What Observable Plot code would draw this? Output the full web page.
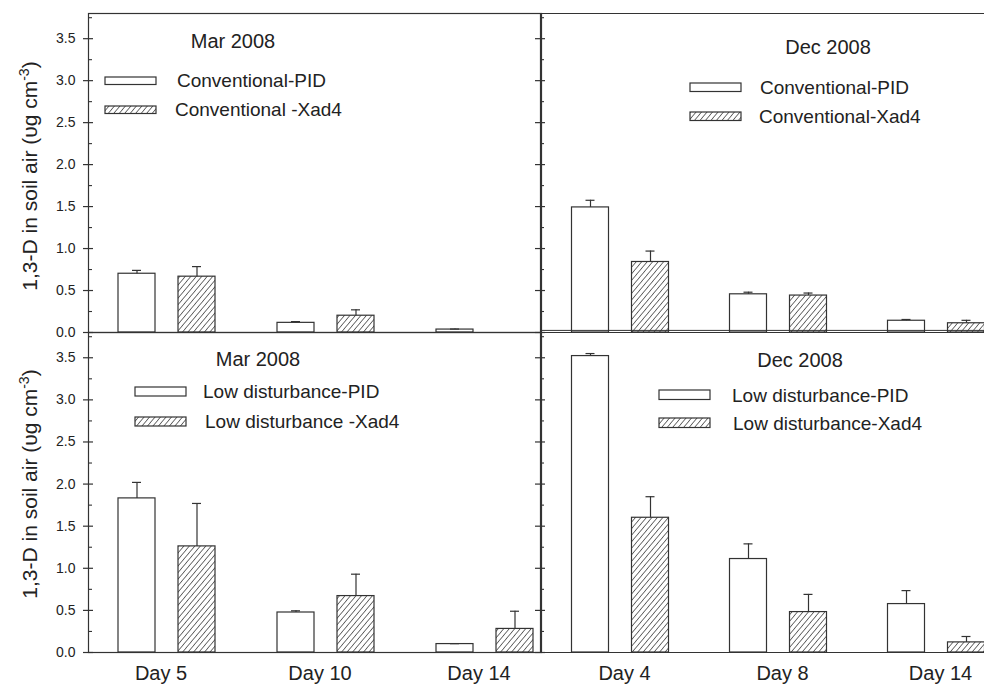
<!DOCTYPE html>
<html><head><meta charset="utf-8">
<script src="https://cdn.jsdelivr.net/npm/d3@7"></script>
<script src="https://cdn.jsdelivr.net/npm/@observablehq/plot@0.6"></script>
<style>
html,body{margin:0;padding:0;background:#fff;overflow:hidden}
#wrap{position:relative;width:984px;height:684px;overflow:hidden;background:#fff}
#wrap svg{position:absolute;left:0;top:0}
</style></head><body>
<svg width="0" height="0" style="position:absolute"><defs>
<pattern id="hatch" width="4.2" height="4.2" patternUnits="userSpaceOnUse" patternTransform="rotate(40)">
<line x1="0" y1="0" x2="0" y2="4.2" stroke="#2a2a2a" stroke-width="1.3"/></pattern>
</defs></svg>
<div id="wrap"></div>
<script>
// ---- data ----
const daysMar = ["Day 5", "Day 10", "Day 14"];
const daysDec = ["Day 4", "Day 8", "Day 14"];
const seriesKeys = ["PID", "Xad4"];
const yMajorTicks = [0, 0.5, 1, 1.5, 2, 2.5, 3, 3.5];
const yMinorTicks = [0.25, 0.75, 1.25, 1.75, 2.25, 2.75, 3.25, 3.75];

const convMarPID = [0.70, 0.115, 0.035];
const convMarPIDErr = [0.04, 0.015, 0.006];
const convMarXad4 = [0.665, 0.20, 0];
const convMarXad4Err = [0.12, 0.07, 0];

const convDecPID = [1.49, 0.455, 0.14];
const convDecPIDErr = [0.085, 0.025, 0.015];
const convDecXad4 = [0.84, 0.44, 0.11];
const convDecXad4Err = [0.13, 0.03, 0.035];

const lowMarPID = [1.83, 0.475, 0.10];
const lowMarPIDErr = [0.19, 0.02, 0.005];
const lowMarXad4 = [1.26, 0.67, 0.28];
const lowMarXad4Err = [0.51, 0.26, 0.21];

const lowDecPID = [3.52, 1.11, 0.575];
const lowDecPIDErr = [0.03, 0.18, 0.16];
const lowDecXad4 = [1.60, 0.48, 0.12];
const lowDecXad4Err = [0.25, 0.21, 0.07];

const yTitleMain = "1,3-D in soil air (\u03c5g cm";
const yTitleSup = "-3";

// ---- layout (style) ----
const W = 984, H = 684;
const cols = [
  {left: 88, right: 541, g0: 166.5, step: 159, labelDx: -6},
  {left: 540, right: 984, g0: 620, step: 158, labelDx: 4}
];
const rows = [{top: 13, bottom: 332, titleCy: 176}, {top: 332, bottom: 652, titleCy: 484}];
const ink = "#333";
const font = "'Liberation Sans', Arial, Helvetica, sans-serif";

const panels = [
  {row: 0, col: 0, days: daysMar, pid: convMarPID, pidE: convMarPIDErr, xad: convMarXad4, xadE: convMarXad4Err,
   title: "Mar 2008", legend: ["Conventional-PID", "Conventional -Xad4"],
   lay: {tx: 233, ty: 48, rx: 105, ry: [77, 106], rh: 7.5, lx: [177, 175], ly: [87, 116]}},
  {row: 0, col: 1, days: daysDec, pid: convDecPID, pidE: convDecPIDErr, xad: convDecXad4, xadE: convDecXad4Err,
   title: "Dec 2008", legend: ["Conventional-PID", "Conventional-Xad4"], doubleBase: true,
   lay: {tx: 828, ty: 54, rx: 690, ry: [83, 112], rh: 8.5, lx: [760, 759], ly: [94, 123]}},
  {row: 1, col: 0, days: daysMar, pid: lowMarPID, pidE: lowMarPIDErr, xad: lowMarXad4, xadE: lowMarXad4Err,
   title: "Mar 2008", legend: ["Low disturbance-PID", "Low disturbance -Xad4"],
   lay: {tx: 258, ty: 366, rx: 135, ry: [387, 417], rh: 9, lx: [203, 205], ly: [398, 428]}},
  {row: 1, col: 1, days: daysDec, pid: lowDecPID, pidE: lowDecPIDErr, xad: lowDecXad4, xadE: lowDecXad4Err,
   title: "Dec 2008", legend: ["Low disturbance-PID", "Low disturbance-Xad4"],
   lay: {tx: 800, ty: 367, rx: 659, ry: [390, 418], rh: 9.5, lx: [732, 733], ly: [402, 430]}}
];

const wrap = document.getElementById("wrap");

for (const p of panels) {
  const c = cols[p.col], r = rows[p.row];
  const offset = {PID: -30 / c.step, Xad4: 30 / c.step};
  const half = 18.5 / c.step;
  const cap = 4.5 / c.step;
  const data = [];
  p.days.forEach((d, i) => {
    data.push({i, day: d, series: "PID", v: p.pid[i], e: p.pidE[i], x: i + offset.PID});
    data.push({i, day: d, series: "Xad4", v: p.xad[i], e: p.xadE[i], x: i + offset.Xad4});
  });
  const withErr = data.filter(d => d.e > 0);
  const xDomain = [(c.left - c.g0) / c.step, (c.right - c.g0) / c.step];
  const x0 = xDomain[0];
  const marks = [
    Plot.rect(data.filter(d => d.series === "PID" && d.v > 0), {x1: d => d.x - half, x2: d => d.x + half, y1: 0, y2: "v", fill: "white", stroke: ink, strokeWidth: 1.2}),
    Plot.rect(data.filter(d => d.series === "Xad4" && d.v > 0), {x1: d => d.x - half, x2: d => d.x + half, y1: 0, y2: "v", fill: "url(#hatch)", stroke: ink, strokeWidth: 1.2}),
    Plot.ruleX(withErr, {x: "x", y1: "v", y2: d => d.v + d.e, stroke: ink, strokeWidth: 1.2}),
    Plot.ruleY(withErr, {y: d => d.v + d.e, x1: d => d.x - cap, x2: d => d.x + cap, stroke: ink, strokeWidth: 1.2}),
    // major ticks crossing the axis, minor ticks inside
    Plot.ruleY(yMajorTicks, {y: d => d, x1: x0 - 5 / c.step, x2: x0 + 5 / c.step, stroke: ink, strokeWidth: 1.2}),
    Plot.ruleY(yMinorTicks, {y: d => d, x1: x0, x2: x0 + 4 / c.step, stroke: ink, strokeWidth: 1.1}),
  ];
  if (p.col === 0) {
    marks.push(Plot.axisY({ticks: yMajorTicks, tickSize: 0, tickPadding: 13, fontSize: 14, label: null,
      tickFormat: d3.format(".1f")}));
    marks.push(Plot.frame({stroke: ink, strokeWidth: 1.2}));
  } else {
    marks.push(Plot.ruleY([0, 3.8], {stroke: ink, strokeWidth: 1.2}));
    marks.push(Plot.ruleX([x0], {stroke: ink, strokeWidth: 1.2}));
  }
  if (p.doubleBase) marks.push(Plot.ruleY([0.025], {stroke: ink, strokeWidth: 1}));
  if (p.row === 1) {
    marks.push(Plot.axisX({ticks: [0, 1, 2], tickFormat: i => p.days[i], tickSize: 0, tickPadding: 13, fontSize: 20, label: null, dx: c.labelDx}));
  }
  const svg = Plot.plot({
    width: W, height: H,
    marginLeft: c.left, marginRight: W - c.right, marginTop: r.top, marginBottom: H - r.bottom,
    style: {background: "transparent", fontFamily: font, color: "#222", overflow: "hidden"},
    x: {type: "linear", domain: xDomain, axis: p.row === 1 ? undefined : null},
    y: {domain: [0, 3.8], axis: p.col === 0 ? undefined : null},
    marks
  });
  const s = d3.select(svg);
  s.append("text").attr("x", p.lay.tx).attr("y", p.lay.ty).attr("text-anchor", "middle")
    .attr("font-size", 20).attr("font-family", font).attr("fill", "#222").text(p.title);
  p.legend.forEach((lab, k) => {
    s.append("rect").attr("x", p.lay.rx).attr("y", p.lay.ry[k]).attr("width", 51).attr("height", p.lay.rh)
      .attr("fill", k === 0 ? "white" : "url(#hatch)").attr("stroke", ink).attr("stroke-width", 1.2);
    s.append("text").attr("x", p.lay.lx[k]).attr("y", p.lay.ly[k]).attr("font-size", 19)
      .attr("text-anchor", "start").attr("font-family", font).attr("fill", "#222").text(lab);
  });
  if (p.col === 0) {
    const t = s.append("text").attr("transform", `translate(37,${r.titleCy}) rotate(-90)`).attr("text-anchor", "middle")
      .attr("font-size", 21).attr("font-family", font).attr("fill", "#222");
    t.append("tspan").text(yTitleMain);
    t.append("tspan").attr("dy", -8).attr("font-size", 14).text(yTitleSup);
    t.append("tspan").attr("dy", 8).text(")");
  }
  wrap.appendChild(svg);
}
</script>
</body></html>
